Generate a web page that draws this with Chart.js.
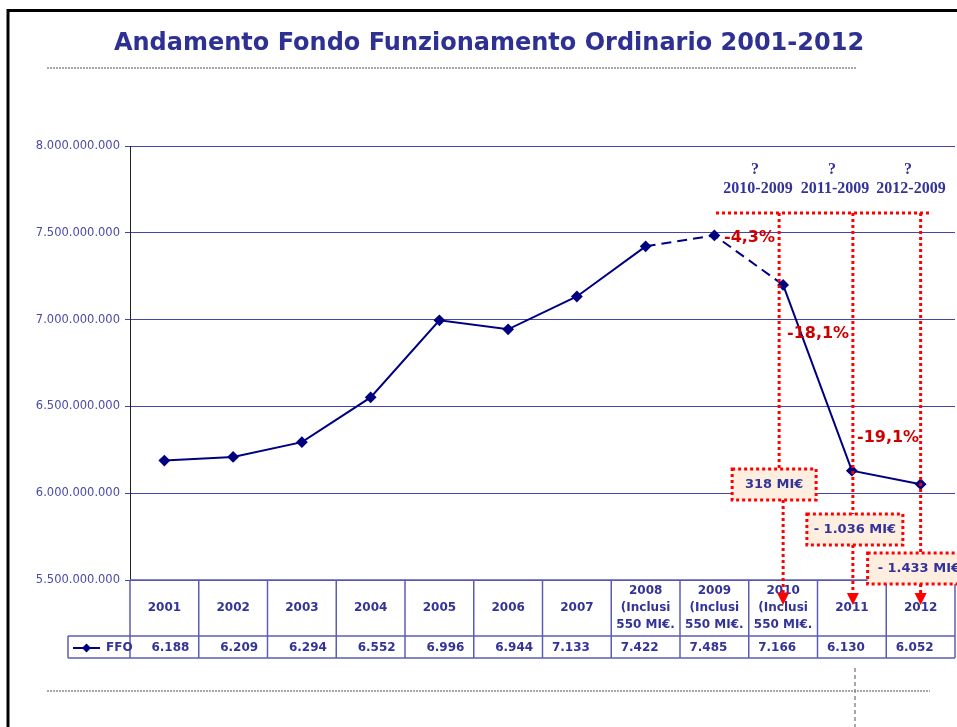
<!DOCTYPE html>
<html>
<head>
<meta charset="utf-8">
<script src="https://cdn.jsdelivr.net/npm/chart.js@4/dist/chart.umd.min.js"></script>
<style>
html, body { margin: 0; padding: 0; background: #fff; overflow: hidden; }
</style>
</head>
<body>
<canvas id="ffoChart" width="957" height="727"></canvas>
<script>
// dati
const chartTitle = 'Andamento Fondo Funzionamento Ordinario 2001-2012'
const yearLabels = [
    ['2001'], ['2002'], ['2003'], ['2004'], ['2005'], ['2006'], ['2007'],
    ['2008', '(Inclusi', '550 MI€.'],
    ['2009', '(Inclusi', '550 MI€.'],
    ['2010', '(Inclusi', '550 MI€.'],
    ['2011'], ['2012']
]
const ffoValues = [6188e6, 6209e6, 6294e6, 6552e6, 6996e6, 6944e6, 7133e6, 7422e6, 7485e6, 7200e6, 6130e6, 6052e6]
const ffoTable = ['6.188', '6.209', '6.294', '6.552', '6.996', '6.944', '7.133', '7.422', '7.485', '7.166', '6.130', '6.052']
const yMin = 5500000000
const yMax = 8000000000
const yStep = 500000000
const deltaPeriods = ['2010-2009', '2011-2009', '2012-2009']
const deltaPercents = ['-4,3%', '-18,1%', '-19,1%']
const deltaAmounts = ['318 MI€', '- 1.036 MI€', '- 1.433 MI€']

const NAVY = '#000080'
const TEXT_BLUE = '#333399'
const GRID_BLUE = '#4444aa'
const TABLE_BLUE = '#5c5cb4'
const RED = '#ff0000'

function fmtDots(v) {
    return String(Math.round(v)).replace(/\B(?=(\d{3})+(?!\d))/g, '.')
}

function path(ctx, pts) {
    ctx.beginPath()
    ctx.moveTo(pts[0][0], pts[0][1])
    for (let i = 1; i < pts.length; i++) ctx.lineTo(pts[i][0], pts[i][1])
    ctx.stroke()
}

function drawTable(chart) {
    const ctx = chart.ctx
    const x = chart.scales.x
    const area = chart.chartArea
    const half = (x.getPixelForValue(1) - x.getPixelForValue(0)) / 2
    const headTop = area.bottom
    const rowTop = headTop + 56
    const rowBottom = rowTop + 22
    const legendLeft = 68

    ctx.save()
    ctx.strokeStyle = TABLE_BLUE
    ctx.lineWidth = 1.5
    // righe orizzontali
    path(ctx, [[area.left, headTop], [area.right, headTop]])
    path(ctx, [[legendLeft, rowTop], [area.right, rowTop]])
    path(ctx, [[legendLeft, rowBottom], [area.right, rowBottom]])
    // colonne
    for (let i = 0; i <= yearLabels.length; i++) {
        const px = i < yearLabels.length ? x.getPixelForValue(i) - half : area.right
        path(ctx, [[px, headTop], [px, rowBottom]])
    }
    path(ctx, [[legendLeft, rowTop], [legendLeft, rowBottom]])

    // valori
    ctx.fillStyle = TEXT_BLUE
    ctx.font = 'bold 12px "DejaVu Sans"'
    ctx.textAlign = 'center'
    ctx.textBaseline = 'middle'
    ffoTable.forEach((t, i) => {
        const shift = i < 6 ? 6 : -6
        ctx.fillText(t, x.getPixelForValue(i) + shift, rowTop + 12)
    })

    // legenda
    const ly = rowTop + 12
    ctx.strokeStyle = NAVY
    ctx.lineWidth = 2
    path(ctx, [[73, ly], [100, ly]])
    ctx.fillStyle = NAVY
    ctx.beginPath()
    ctx.moveTo(86.5, ly - 4.5); ctx.lineTo(91, ly); ctx.lineTo(86.5, ly + 4.5); ctx.lineTo(82, ly)
    ctx.closePath()
    ctx.fill()
    ctx.fillStyle = TEXT_BLUE
    ctx.font = 'bold 12px "DejaVu Sans"'
    ctx.textAlign = 'left'
    ctx.fillText('FFO', 106, ly)
    ctx.restore()
}

function drawNotes(chart) {
    const ctx = chart.ctx
    const x = chart.scales.x
    const area = chart.chartArea
    const cx = [x.getPixelForValue(9) - 4, x.getPixelForValue(10) + 1, x.getPixelForValue(11)]
    const lowX = [x.getPixelForValue(9), x.getPixelForValue(10) + 1, x.getPixelForValue(11)]
    const topY = area.top + 67
    const boxes = [
        { cx: cx[0] - 5, w: 84, top: area.top + 323 },
        { cx: cx[1] + 2, w: 96, top: area.top + 368 },
        { cx: cx[2] + 1, w: 108, top: area.top + 407 }
    ]
    const arrowTop = area.bottom + 13

    ctx.save()
    // intestazioni
    ctx.fillStyle = TEXT_BLUE
    ctx.font = 'bold 16px "Liberation Serif"'
    ctx.textAlign = 'center'
    ctx.textBaseline = 'middle'
    const headX = [758, 835, 911]
    deltaPeriods.forEach((p, i) => {
        ctx.fillText('?', headX[i] - 3, area.top + 24)
        ctx.fillText(p, headX[i], area.top + 43)
    })

    // linee rosse punteggiate
    ctx.strokeStyle = RED
    ctx.lineWidth = 3
    ctx.setLineDash([3, 3])
    path(ctx, [[716, topY], [929, topY]])
    boxes.forEach((b, i) => {
        path(ctx, [[cx[i], topY], [cx[i], b.top]])
        path(ctx, [[lowX[i], b.top + 31], [lowX[i], arrowTop]])
    })

    // riquadri
    boxes.forEach((b, i) => {
        const left = b.cx - b.w / 2
        ctx.setLineDash([])
        ctx.fillStyle = '#fdeee0'
        ctx.fillRect(left, b.top, b.w, 31)
        ctx.setLineDash([3, 3])
        ctx.strokeStyle = RED
        ctx.strokeRect(left, b.top, b.w, 31)
        ctx.fillStyle = TEXT_BLUE
        ctx.font = 'bold 13px "DejaVu Sans"'
        ctx.textAlign = i === 2 ? 'left' : 'center'
        ctx.fillText(deltaAmounts[i], i === 2 ? left + 10 : b.cx, b.top + 16)
    })

    // frecce
    ctx.setLineDash([])
    ctx.fillStyle = RED
    lowX.forEach(px => {
        ctx.beginPath()
        ctx.moveTo(px - 6, arrowTop); ctx.lineTo(px + 6, arrowTop); ctx.lineTo(px, arrowTop + 12)
        ctx.closePath()
        ctx.fill()
    })

    // percentuali
    ctx.fillStyle = '#cc0000'
    ctx.font = 'bold 16px "DejaVu Sans"'
    ctx.textAlign = 'left'
    const pctPos = [[724, 238], [787, 334], [857, 438]]
    deltaPercents.forEach((p, i) => ctx.fillText(p, pctPos[i][0], pctPos[i][1]))
    ctx.restore()
}

const slideDecor = {
    id: 'slideDecor',
    beforeDraw(chart) {
        const ctx = chart.ctx
        ctx.save()
        ctx.fillStyle = '#fff'
        ctx.fillRect(0, 0, chart.width, chart.height)
        // cornice
        ctx.strokeStyle = '#000'
        ctx.lineWidth = 3
        path(ctx, [[8, chart.height], [8, 10.5], [chart.width, 10.5]])
        // titolo
        ctx.fillStyle = '#2e3192'
        ctx.font = 'bold 24px "DejaVu Sans"'
        ctx.textAlign = 'center'
        ctx.textBaseline = 'middle'
        ctx.fillText(chartTitle, 489, 44)
        // linee grigie
        ctx.strokeStyle = '#8c8c8c'
        ctx.lineWidth = 1.5
        ctx.setLineDash([2, 1])
        path(ctx, [[47, 68], [857, 68]])
        path(ctx, [[47, 691], [930, 691]])
        ctx.setLineDash([4, 3])
        path(ctx, [[855, 668], [855, chart.height]])
        ctx.restore()
    },
    afterDraw(chart) {
        drawTable(chart)
        drawNotes(chart)
    }
}

new Chart(document.getElementById('ffoChart').getContext('2d'), {
    type: 'line',
    data: {
        labels: yearLabels,
        datasets: [{
            label: 'FFO',
            data: ffoValues,
            borderColor: NAVY,
            backgroundColor: NAVY,
            borderWidth: 2,
            fill: false,
            tension: 0,
            pointStyle: 'rectRot',
            pointRadius: 4.5,
            pointBackgroundColor: NAVY,
            pointBorderColor: NAVY,
            segment: {
                borderDash: c => (c.p0DataIndex >= 7 && c.p0DataIndex <= 8) ? [10, 6] : undefined
            }
        }]
    },
    options: {
        responsive: false,
        animation: false,
        devicePixelRatio: 1,
        layout: { autoPadding: false, padding: { left: 0, right: 2, top: 146, bottom: 0 } },
        plugins: {
            legend: { display: false },
            tooltip: { enabled: false },
            title: { display: false }
        },
        scales: {
            x: {
                offset: true,
                grid: { display: false, drawTicks: false },
                border: { display: false },
                ticks: {
                    color: TEXT_BLUE,
                    font: { family: '"DejaVu Sans"', size: 12, weight: 'bold', lineHeight: 1.42 },
                    padding: 11,
                    crossAlign: 'center',
                    autoSkip: false,
                    maxRotation: 0
                },
                afterFit: s => {
                    s.height = 147
                    s.paddingLeft = 0
                    s.paddingRight = 0
                }
            },
            y: {
                min: yMin,
                max: yMax,
                grid: { color: GRID_BLUE, lineWidth: 1, tickLength: 5 },
                border: { display: true, color: '#222', width: 1 },
                ticks: {
                    stepSize: yStep,
                    color: '#4a4aa8',
                    font: { family: '"DejaVu Sans"', size: 11.5 },
                    padding: 5,
                    callback: v => fmtDots(v)
                },
                afterFit: s => { s.width = 130 }
            }
        }
    },
    plugins: [slideDecor]
})
</script>
</body>
</html>
